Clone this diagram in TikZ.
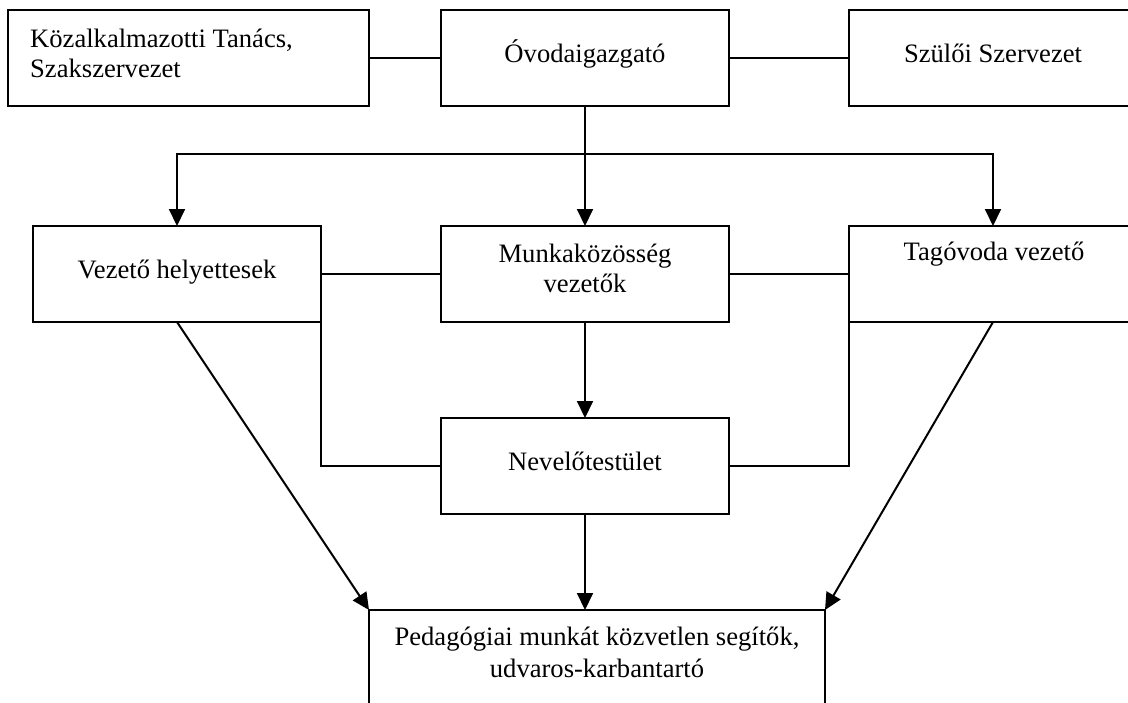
\documentclass[tikz,border=0pt]{standalone}
\usepackage{fontspec}
\setmainfont{Liberation Serif}
\usetikzlibrary{arrows.meta}
\begin{document}
\begin{tikzpicture}[x=1pt,y=-1pt,
  box/.style={draw, line width=2pt, rectangle, inner sep=0pt, outer sep=0pt, anchor=north west, minimum height=96pt},
  lbl/.style={inner sep=0pt, anchor=base, font=\fontsize{26.6}{30}\selectfont},
  lbll/.style={lbl, anchor=base west},
  conn/.style={line width=2pt},
  arr/.style={conn, -{Triangle[length=17pt,width=16pt]}}]
\useasboundingbox (0,0) rectangle (1128,702);
\clip (0,0) rectangle (1128,702);
\fill[white] (0,0) rectangle (1128,702);
% boxes
\node[box, minimum width=361pt] (kt) at (8,10) {};
\node[box, minimum width=288pt] (ovi) at (441,10) {};
\node[box, minimum width=288pt] (szsz) at (849,10) {};
\node[box, minimum width=288pt] (vh) at (33,226) {};
\node[box, minimum width=288pt] (mk) at (441,226) {};
\node[box, minimum width=288pt] (tv) at (849,226) {};
\node[box, minimum width=288pt] (nt) at (441,418) {};
\node[box, minimum width=456pt, minimum height=130pt] (ped) at (369,610) {};
% texts
\node[lbll] (kt1) at (30,47) {Közalkalmazotti Tanács,};
\node[lbll] (kt2) at (30,77) {Szakszervezet};
\node[lbl] (ovit) at (585,62) {Óvodaigazgató};
\node[lbl] (szszt) at (993,62) {Szülői Szervezet};
\node[lbl] (vht) at (177,278) {Vezető helyettesek};
\node[lbl] (mk1) at (585,262) {Munkaközösség};
\node[lbl] (mk2) at (585,292) {vezetők};
\node[lbl] (tvt) at (994,260) {Tagóvoda vezető};
\node[lbl] (ntt) at (585,470) {Nevelőtestület};
\node[lbl] (ped1) at (597,645) {Pedagógiai munkát közvetlen segítők,};
\node[lbl] (ped2) at (597,677) {udvaros-karbantartó};
% connectors
\coordinate (busc) at (585,154);
\draw[conn] (kt.east) -- (ovi.west);
\draw[conn] (ovi.east) -- (szsz.west);
\draw[arr] (ovi.south) -- (mk.north);
\draw[arr] (busc) -| (vh.north);
\draw[arr] (busc) -| (tv.north);
\draw[conn] (vh.east) -- (mk.west);
\draw[conn] (mk.east) -- (tv.west);
\draw[arr] (mk.south) -- (nt.north);
\draw[conn] (nt.west) -| (vh.south east);
\draw[conn] (nt.east) -| (tv.south west);
\draw[arr] (nt.south) -- (nt.south |- ped.north);
\draw[arr] (vh.south) -- (ped.north west);
\draw[arr] (tv.south) -- (ped.north east);
\end{tikzpicture}
\end{document}
